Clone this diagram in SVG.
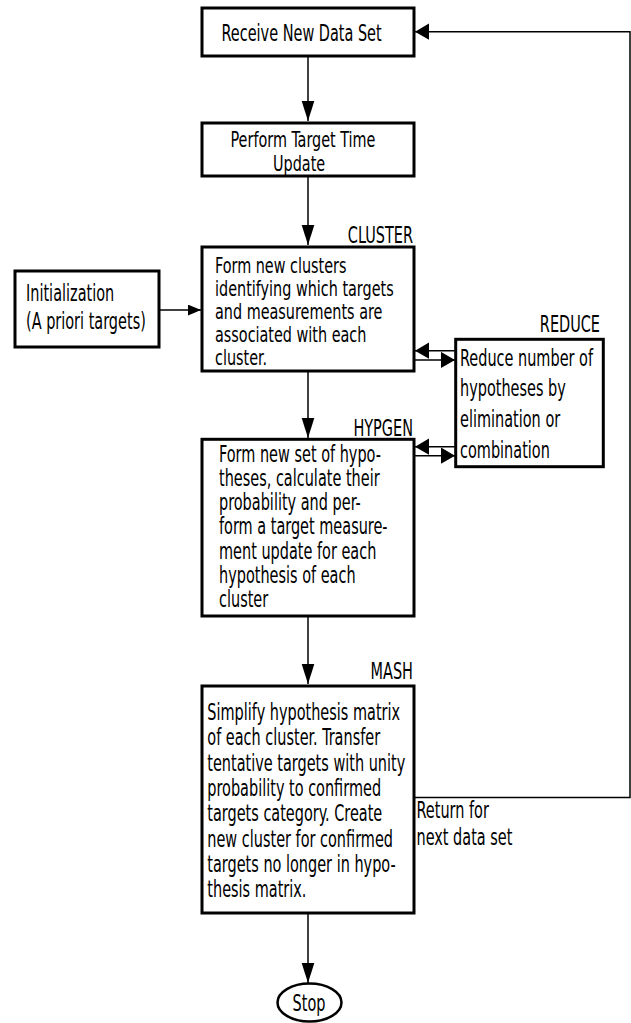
<svg xmlns="http://www.w3.org/2000/svg" width="631" height="1023" viewBox="0 0 631 1023">
<style>
text{font-family:"DejaVu Sans Condensed","DejaVu Sans",sans-serif;font-size:22.5px;fill:#000}
.box{fill:#fff;stroke:#000;stroke-width:3}
.lab{text-anchor:end}
.mid{text-anchor:middle}
.sm{font-size:21.5px}
.c{fill:none;stroke:#000;stroke-width:1.5}
</style>
<defs>
<marker id="aV" markerUnits="userSpaceOnUse" markerWidth="20" markerHeight="14" viewBox="0 0 19 12" refX="19" refY="6" orient="auto"><path d="M0,0L19,6L0,12z" fill="#000"/></marker>
<marker id="aH" markerUnits="userSpaceOnUse" markerWidth="14" markerHeight="17" viewBox="0 0 13 15" refX="13" refY="7.5" orient="auto"><path d="M0,0L13,7.5L0,15z" fill="#000"/></marker>
<marker id="aS" markerUnits="userSpaceOnUse" markerWidth="13" markerHeight="11" viewBox="0 0 12 10" refX="12" refY="5" orient="auto"><path d="M0,0L12,5L0,10z" fill="#000"/></marker>
</defs>

<g id="connectors">
<path class="c" d="M308,56V121" marker-end="url(#aV)"/>
<path class="c" d="M308,176V245" marker-end="url(#aV)"/>
<path class="c" d="M159,310H201" marker-end="url(#aS)"/>
<path class="c" d="M308,371V438" marker-end="url(#aV)"/>
<path class="c" d="M455,350.7H415" marker-end="url(#aH)"/>
<path class="c" d="M414,360H455" marker-end="url(#aH)"/>
<path class="c" d="M455,446.7H415" marker-end="url(#aH)"/>
<path class="c" d="M414,455.7H455" marker-end="url(#aH)"/>
<path class="c" d="M308,616V684" marker-end="url(#aV)"/>
<path class="c" d="M308,913V983" marker-end="url(#aV)"/>
<path class="c" d="M414,797.5H630V31.7H415" marker-end="url(#aH)"/>
<text transform="translate(416.5,817.5) scale(0.715,1)">Return for</text>
<text transform="translate(416.5,844.5) scale(0.715,1)">next data set</text>
</g>

<g id="receive">
<rect class="box" x="202" y="8" width="212" height="48"/>
<text transform="translate(221.5,41) scale(0.715,1)">Receive New Data Set</text>
</g>

<g id="timeupdate">
<rect class="box" x="202" y="123" width="212" height="53"/>
<text class="sm" transform="translate(230.5,147) scale(0.745,1)">Perform Target Time</text>
<text class="sm" transform="translate(273,171) scale(0.745,1)">Update</text>
</g>

<g id="init">
<rect class="box" x="15" y="271" width="144" height="76"/>
<text transform="translate(26,301) scale(0.715,1)">Initialization</text>
<text transform="translate(26,329) scale(0.715,1)">(A priori targets)</text>
</g>

<g id="cluster">
<text class="lab" transform="translate(413,242.5) scale(0.715,1)">CLUSTER</text>
<rect class="box" x="202" y="247" width="212" height="124"/>
<text class="sm" transform="translate(215,272.5) scale(0.745,1)">Form new clusters</text>
<text class="sm" transform="translate(215,295.5) scale(0.745,1)">identifying which targets</text>
<text class="sm" transform="translate(215,318.5) scale(0.745,1)">and measurements are</text>
<text class="sm" transform="translate(215,341.5) scale(0.745,1)">associated with each</text>
<text class="sm" transform="translate(215,364.5) scale(0.745,1)">cluster.</text>
</g>

<g id="reduce">
<text class="lab" transform="translate(600,332) scale(0.715,1)">REDUCE</text>
<rect class="box" x="455.7" y="339.3" width="147.6" height="127.4"/>
<text transform="translate(460,365.5) scale(0.715,1)">Reduce number of</text>
<text transform="translate(460,396) scale(0.715,1)">hypotheses by</text>
<text transform="translate(460,426.5) scale(0.715,1)">elimination or</text>
<text transform="translate(460,457.5) scale(0.715,1)">combination</text>
</g>

<g id="hypgen">
<text class="lab" transform="translate(413,435.5) scale(0.715,1)">HYPGEN</text>
<rect class="box" x="202" y="439.3" width="212" height="176.7"/>
<text transform="translate(219,461.5) scale(0.715,1)">Form new set of hypo-</text>
<text transform="translate(219,485.8) scale(0.715,1)">theses, calculate their</text>
<text transform="translate(219,510.1) scale(0.715,1)">probability and per-</text>
<text transform="translate(219,534.4) scale(0.715,1)">form a target measure-</text>
<text transform="translate(219,558.7) scale(0.715,1)">ment update for each</text>
<text transform="translate(219,583) scale(0.715,1)">hypothesis of each</text>
<text transform="translate(219,607.3) scale(0.715,1)">cluster</text>
</g>

<g id="mash">
<text class="lab" transform="translate(413,678.5) scale(0.715,1)">MASH</text>
<rect class="box" x="202" y="686" width="212" height="227"/>
<text transform="translate(207.3,720) scale(0.715,1)">Simplify hypothesis matrix</text>
<text transform="translate(207.3,745.3) scale(0.715,1)">of each cluster. Transfer</text>
<text transform="translate(207.3,770.6) scale(0.715,1)">tentative targets with unity</text>
<text transform="translate(207.3,795.9) scale(0.715,1)">probability to confirmed</text>
<text transform="translate(207.3,821.2) scale(0.715,1)">targets category. Create</text>
<text transform="translate(207.3,846.5) scale(0.715,1)">new cluster for confirmed</text>
<text transform="translate(207.3,871.8) scale(0.715,1)">targets no longer in hypo-</text>
<text transform="translate(207.3,897.1) scale(0.715,1)">thesis matrix.</text>
</g>

<g id="stop">
<ellipse cx="309.5" cy="1002.5" rx="32" ry="19" fill="#fff" stroke="#000" stroke-width="2.5"/>
<text class="mid" transform="translate(309,1011) scale(0.715,1)">Stop</text>
</g>
</svg>
